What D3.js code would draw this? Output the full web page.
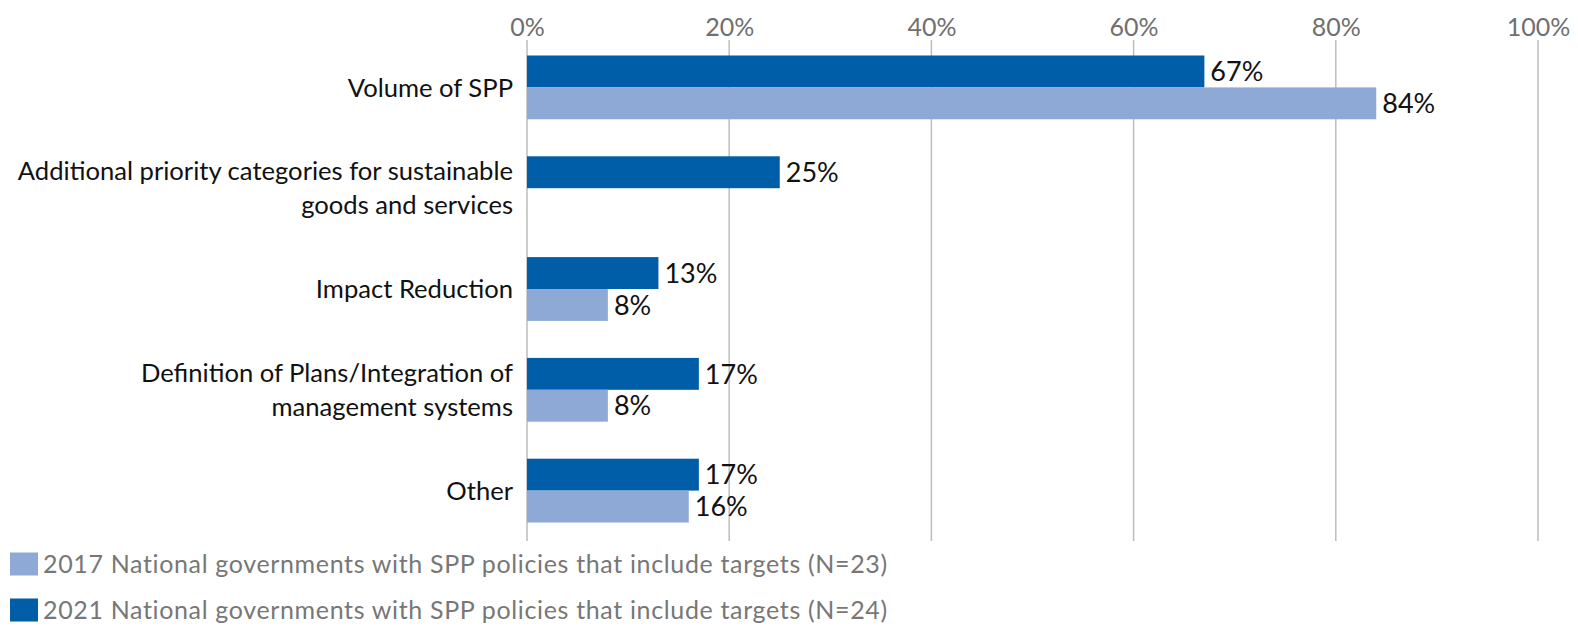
<!DOCTYPE html>
<html>
<head>
<meta charset="utf-8">
<script src="https://cdn.jsdelivr.net/npm/d3@7"></script>
<style>
  html, body { margin: 0; padding: 0; background: #fff; }
  svg { display: block; font-family: Lato, "Open Sans", sans-serif; }
</style>
</head>
<body>
<svg id="chart" width="1578" height="627"></svg>
<script>
// Categories (each line of a label is its own entry)
const categories = [
  ["Volume of SPP"],
  ["Additional priority categories for sustainable", "goods and services"],
  ["Impact Reduction"],
  ["Definition of Plans/Integration of", "management systems"],
  ["Other"]
];
const categoryKeys = categories.map(c => c.join(" "));

// Share of governments, percent (null = no value reported)
const values2021 = [67, 25, 13, 17, 17];
const values2017 = [84, null, 8, 8, 16];

const seriesNames = ["2021", "2017"];
const legendLabels = [
  "2017 National governments with SPP policies that include targets (N=23)",
  "2021 National governments with SPP policies that include targets (N=24)"
];
const tickValues = [0, 20, 40, 60, 80, 100];

const colors = { "2021": "#005EA8", "2017": "#8FA9D7" };

const svg = d3.select("#chart");
const margin = { left: 527, right: 40, top: 37, bottom: 86 };
const width = 1578, height = 627;

const x = d3.scaleLinear().domain([0, 100]).range([margin.left, width - margin.right]);
const y = d3.scaleBand().domain(categoryKeys).range([margin.top, height - margin.bottom]);
const ySub = d3.scaleBand().domain(seriesNames).range([0, y.bandwidth()]).paddingOuter(0.58);

// Vertical gridlines
svg.append("g")
  .selectAll("line")
  .data(tickValues)
  .join("line")
  .attr("x1", d => x(d)).attr("x2", d => x(d))
  .attr("y1", margin.top + 3).attr("y2", height - margin.bottom)
  .attr("stroke", "#bdbdbd").attr("stroke-width", 1.5);

// Top axis labels
const axis = d3.axisTop(x).tickValues(tickValues).tickFormat(d => d + "%").tickSize(0).tickPadding(0);
const gAxis = svg.append("g").attr("transform", `translate(0, 36)`).call(axis);
gAxis.select(".domain").remove();
gAxis.selectAll("text")
  .attr("font-size", 25).attr("fill", "#6f6f6f")
  .attr("font-family", "Lato, sans-serif");

// Data rows
const rows = categoryKeys.map((k, i) => ({ key: k, v: { "2021": values2021[i], "2017": values2017[i] } }));
const barData = [];
rows.forEach(r => seriesNames.forEach(s => {
  if (r.v[s] != null) barData.push({ key: r.key, series: s, value: r.v[s] });
}));

svg.append("g")
  .selectAll("rect")
  .data(barData)
  .join("rect")
  .attr("x", x(0))
  .attr("y", d => y(d.key) + ySub(d.series))
  .attr("width", d => x(d.value) - x(0))
  .attr("height", ySub.bandwidth())
  .attr("fill", d => colors[d.series]);

svg.append("g")
  .selectAll("text")
  .data(barData)
  .join("text")
  .attr("x", d => x(d.value) + 6)
  .attr("y", d => y(d.key) + ySub(d.series) + ySub.bandwidth() / 2)
  .attr("dy", "0.36em")
  .attr("font-size", 27)
  .attr("fill", "#111")
  .text(d => d.value + "%");

// Category labels
const lineH = 34;
const catG = svg.append("g");
categories.forEach((lines, i) => {
  const cy = y(categoryKeys[i]) + y.bandwidth() / 2;
  const t = catG.append("text")
    .attr("x", margin.left - 14)
    .attr("text-anchor", "end")
    .attr("font-size", 25.6)
    .attr("fill", "#111");
  lines.forEach((ln, j) => {
    t.append("tspan")
      .attr("x", margin.left - 14)
      .attr("y", cy + (j - (lines.length - 1) / 2) * lineH)
      .attr("dy", "0.36em")
      .text(ln);
  });
});

// Legend
const legendSeries = ["2017", "2021"];
const lg = svg.append("g");
legendSeries.forEach((s, i) => {
  const ly = 564 + i * 46;
  lg.append("rect").attr("x", 10).attr("y", ly - 11.5).attr("width", 28).attr("height", 23).attr("fill", colors[s]);
  lg.append("text").attr("x", 43).attr("y", ly).attr("dy", "0.36em")
    .attr("font-size", 25).attr("letter-spacing", 0.65).attr("fill", "#777").text(legendLabels[i]);
});
</script>
</body>
</html>
